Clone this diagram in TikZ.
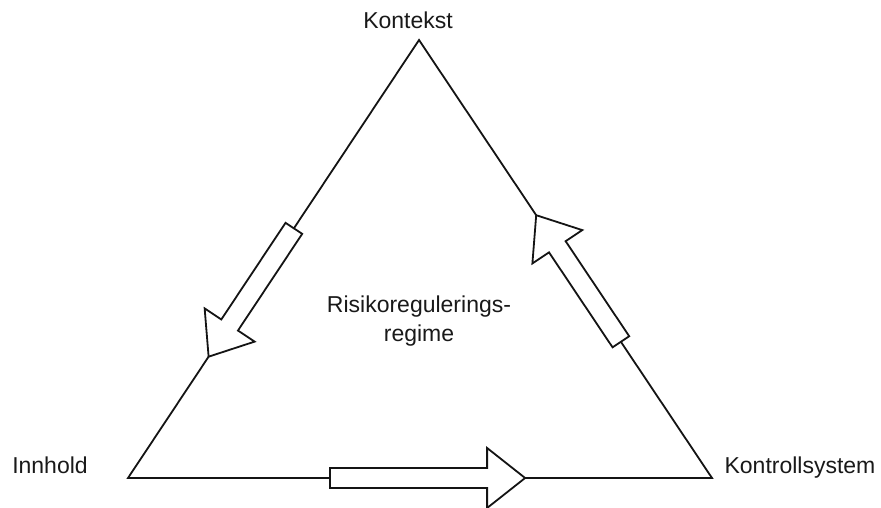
\documentclass[tikz,border=0pt]{standalone}
\usepackage{fontspec}
\setmainfont{Liberation Sans}
\usetikzlibrary{calc}
\definecolor{lineGray}{RGB}{20,20,20}
\definecolor{textGray}{RGB}{25,25,25}

% block arrow from #1 (tail) to #2 (tip), laid on an edge
\newcommand{\blockarr}[2]{%
  \coordinate (hb) at ($(#2)!38pt!(#1)$);
  \draw[blockarrow] ($(#1)!10pt!90:(#2)$) -- ($(hb)!10pt!90:(#2)$)
    -- ($(hb)!30pt!90:(#2)$) -- (#2) -- ($(hb)!30pt!-90:(#2)$)
    -- ($(hb)!10pt!-90:(#2)$) -- ($(#1)!10pt!-90:(#2)$) -- cycle;
}

\begin{document}
\begin{tikzpicture}[x=1pt, y=-1pt,
    edge/.style={line width=1.8pt, lineGray, line join=miter},
    blockarrow/.style={line width=1.8pt, lineGray, fill=white, line join=miter},
    lbl/.style={textGray, font=\fontsize{23}{29}\selectfont, inner sep=0pt}]
  \useasboundingbox (0,0) rectangle (881,508);
  % Corners
  \coordinate (apex) at (419,40);
  \coordinate (left) at (128,478);
  \coordinate (right) at (712,478);
  % Triangle
  \draw[edge] (apex) -- (right) -- (left) -- cycle;
  % Labels
  \node[lbl, anchor=base] (kontekst) at (408,29) {Kontekst};
  \node[lbl, anchor=base] (innhold) at (50,473) {Innhold};
  \node[lbl, anchor=base] (kontroll) at (800,473) {Kontrollsystem};
  \node[lbl, align=center] (regime) at (419,321) {Risikoregulerings-\\regime};
  % Block arrows on the edges
  \coordinate (lt) at ($(apex)!0.430!(left)$);
  \coordinate (lh) at ($(apex)!0.723!(left)$);
  \coordinate (bt) at ($(left)!0.346!(right)$);
  \coordinate (bh) at ($(left)!0.680!(right)$);
  \coordinate (rt) at ($(right)!0.311!(apex)$);
  \coordinate (rh) at ($(right)!0.600!(apex)$);
  \blockarr{lt}{lh}
  \blockarr{bt}{bh}
  \blockarr{rt}{rh}
\end{tikzpicture}
\end{document}
